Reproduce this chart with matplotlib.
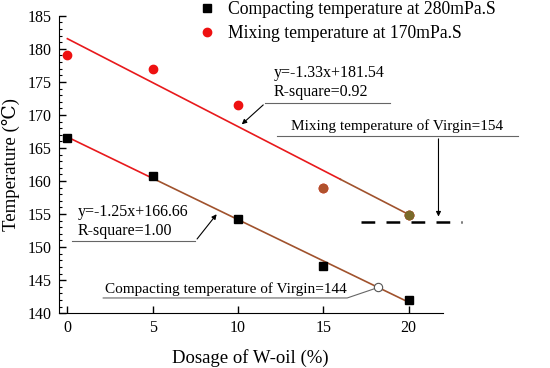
import matplotlib
matplotlib.use("Agg")
import matplotlib.pyplot as plt
from matplotlib.ticker import MultipleLocator

plt.rcParams['font.family'] = ['Liberation Serif', 'DejaVu Serif']

dosage = [0, 5, 10, 15, 20]
compacting = [166.5, 160.8, 154.2, 147.1, 142.0]
mixing = [179.0, 177.0, 171.5, 159.0, 154.8]

# fitted lines (slope, intercept)
fit_mix = (-1.33, 181.54)
fit_comp = (-1.25, 166.66)
virgin_mix = 153.8
virgin_comp_x = 18.2

fig = plt.figure(figsize=(5.5, 3.68), dpi=100)
ax = fig.add_axes([0.107, 0.149, 0.698, 0.808])

# fit lines, red turning brown towards the right as in the original
for (a, b), xb in [(fit_mix, 16), (fit_comp, 5)]:
    ax.plot([0, xb], [b, a * xb + b], color='#e8191c', lw=1.2, zorder=2)
    ax.plot([xb, 20], [a * xb + b, a * 20 + b], color='#a0522d', lw=1.2, zorder=2)

ax.plot(dosage, compacting, 's', color='black', ms=5.5, zorder=3,
        label='Compacting temperature at 280mPa.S')
ax.plot(dosage, mixing, 'o', color='#ee1111', ms=6, zorder=3,
        label='Mixing temperature at 170mPa.S')
# the last two red points look brownish in the original
ax.plot(dosage[3:], mixing[3:], 'o', color='#b0522d', ms=6, zorder=3.5)
ax.plot(dosage[4:], mixing[4:], 'o', color='#7a6a2a', ms=6, zorder=3.6)

# virgin mixing level
ax.plot([17.2, 23.1], [virgin_mix, virgin_mix], color='black', lw=1.8,
        dashes=(5.5, 4.5), clip_on=False)

# open circle for virgin compacting temperature
ax.plot([virgin_comp_x], [fit_comp[0] * virgin_comp_x + fit_comp[1]], 'o',
        mfc='white', mec='#555555', ms=6, mew=0.8, zorder=4)

lc = '#666666'
# upper equation
ax.plot([11.6, 18.9], [171.8, 171.8], color=lc, lw=0.8, clip_on=False)
ax.annotate('', xy=(10.1, 168.3), xytext=(11.6, 171.8),
            arrowprops=dict(arrowstyle='-|>', color='black', lw=0.8, mutation_scale=7))
ax.text(12.1, 172.3, 'y=-1.33x+181.54\nR-square=0.92', fontsize=11.5,
        linespacing=1.25, va='bottom')

# virgin mixing label
ax.plot([12.3, 26.4], [166.8, 166.8], color=lc, lw=0.8, clip_on=False)
ax.annotate('', xy=(21.75, 154.2), xytext=(21.75, 166.8),
            arrowprops=dict(arrowstyle='-|>', color='black', lw=0.8, mutation_scale=7),
            annotation_clip=False)
ax.text(13.1, 167.3, 'Mixing temperature of Virgin=154', fontsize=11, va='bottom')

# lower equation
ax.plot([0.25, 7.5], [150.9, 150.9], color=lc, lw=0.8, clip_on=False)
ax.annotate('', xy=(8.85, 155.3), xytext=(7.5, 150.9),
            arrowprops=dict(arrowstyle='-|>', color='black', lw=0.8, mutation_scale=7))
ax.text(0.6, 151.3, 'y=-1.25x+166.66\nR-square=1.00', fontsize=11.5,
        linespacing=1.25, va='bottom')

# virgin compacting label
ax.plot([2.1, 16.4, 18.0], [142.3, 142.3, 143.7], color=lc, lw=0.8)
ax.text(2.2, 142.55, 'Compacting temperature of Virgin=144', fontsize=11, va='bottom')

ax.set_xlim(-0.5, 22)
ax.set_ylim(140, 185)
ax.xaxis.set_major_locator(MultipleLocator(5))
ax.yaxis.set_major_locator(MultipleLocator(5))
ax.yaxis.set_minor_locator(MultipleLocator(1))
ax.spines['top'].set_visible(False)
ax.spines['right'].set_visible(False)
ax.tick_params(which='major', direction='in', length=5, labelsize=11.5, width=1, pad=5)
ax.tick_params(which='minor', direction='in', length=2.5, width=0.8)
ax.set_xlabel('Dosage of W-oil (%)', fontsize=13.5, labelpad=9)
ax.set_ylabel('Temperature (℃)', fontsize=13.5, labelpad=6)

fig.legend(loc='upper left', bbox_to_anchor=(0.334, 1.03), frameon=False,
           fontsize=12.7, handletextpad=0.6, labelspacing=0.4, borderpad=0.2,
           handlelength=1.2)

fig.savefig('out.png', dpi=100)
